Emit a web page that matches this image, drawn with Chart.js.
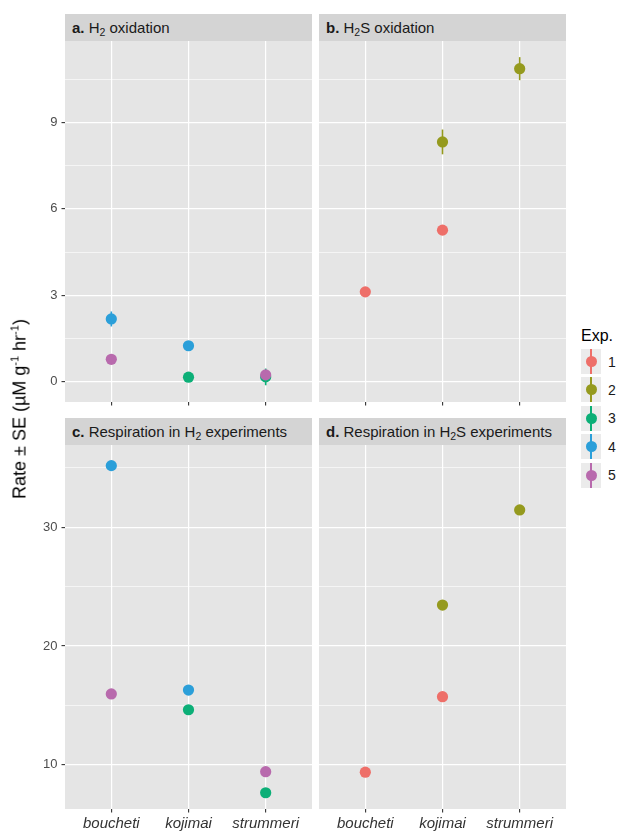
<!DOCTYPE html>
<html>
<head>
<meta charset="utf-8">
<script src="https://cdn.jsdelivr.net/npm/chart.js@4/dist/chart.umd.min.js"></script>
<style>
  html, body { margin: 0; padding: 0; background: #fff; }
  body { width: 622px; height: 833px; position: relative; overflow: hidden;
         font-family: "Liberation Sans", Arial, Helvetica, sans-serif; }
  canvas { position: absolute; }
  .strip { position: absolute; background: #D4D4D4; color: #1A1A1A; font-size: 15px;
           line-height: 27px; height: 27px; padding-left: 7px; box-sizing: border-box; white-space: nowrap; }
  .strip sub { font-size: 10.5px; line-height: 0; vertical-align: -3px; }
  .ytitle { position: absolute; left: 20px; top: 409px; transform: translate(-50%, -50%) rotate(-90deg);
            font-size: 18px; color: #000; white-space: nowrap; font-weight: normal; }
  .ytitle sup { font-size: 11px; line-height: 0; vertical-align: 7px; }
  .legend-title { position: absolute; left: 581px; top: 327px; font-size: 16px; color: #000; line-height: 18px; }
  .key { position: absolute; left: 581px; width: 20px; height: 25px; background: #EBEBEB; }
  .key .bar { position: absolute; left: 9px; top: 0; width: 2px; height: 25px; }
  .key .dot { position: absolute; left: 4.5px; top: 7px; width: 11px; height: 11px; border-radius: 50%; }
  .key-label { position: absolute; left: 608px; font-size: 14px; color: #1A1A1A; line-height: 16px; }
</style>
</head>
<body>

<div class="strip" style="left:65px; top:14px; width:247px;"><b>a.</b> H<sub>2</sub> oxidation</div>
<div class="strip" style="left:319px; top:14px; width:247px;"><b>b.</b> H<sub>2</sub>S oxidation</div>
<div class="strip" style="left:65px; top:418px; width:247px;"><b>c.</b> Respiration in H<sub>2</sub> experiments</div>
<div class="strip" style="left:319px; top:418px; width:247px;"><b>d.</b> Respiration in H<sub>2</sub>S experiments</div>

<canvas id="panelA" width="312" height="367" style="left:0; top:41px;"></canvas>
<canvas id="panelB" width="247" height="367" style="left:319px; top:41px;"></canvas>
<canvas id="panelC" width="312" height="388" style="left:0; top:445px;"></canvas>
<canvas id="panelD" width="247" height="388" style="left:319px; top:445px;"></canvas>

<div class="ytitle">Rate ± SE (µM g<sup>-1</sup> hr<sup>-1</sup>)</div>
<div class="legend-title">Exp.</div>
<div id="legend"></div>

<script>
// Categories and experiment groups
const species = ['boucheti', 'kojimai', 'strummeri'];
const experiments = ['1', '2', '3', '4', '5'];
const expColors = ['#EE6F69', '#959A1E', '#0CAF77', '#2B9FD9', '#B86AAD'];

// a. H2 oxidation: mean rate and SE per species
const h2OxExp3 = [null, 0.16, 0.17];
const h2OxExp3Se = [null, 0.05, 0.29];
const h2OxExp4 = [2.18, 1.25, null];
const h2OxExp4Se = [0.26, 0.05, null];
const h2OxExp5 = [0.78, null, 0.24];
const h2OxExp5Se = [0.05, null, 0.05];

// b. H2S oxidation
const h2sOxExp1 = [3.12, 5.26, null];
const h2sOxExp1Se = [0.05, 0.05, null];
const h2sOxExp2 = [null, 8.32, 10.86];
const h2sOxExp2Se = [null, 0.43, 0.40];

// c. Respiration in H2 experiments
const h2RespExp3 = [null, 14.63, 7.64];
const h2RespExp3Se = [null, 0.2, 0.2];
const h2RespExp4 = [35.19, 16.29, null];
const h2RespExp4Se = [0.2, 0.2, null];
const h2RespExp5 = [15.96, null, 9.41];
const h2RespExp5Se = [0.2, null, 0.2];

// d. Respiration in H2S experiments
const h2sRespExp1 = [9.37, 15.73, null];
const h2sRespExp1Se = [0.2, 0.2, null];
const h2sRespExp2 = [null, 23.45, 31.46];
const h2sRespExp2Se = [null, 0.3, 0.3];

// Y-axis breaks for each row of panels
const topMajorTicks = [0, 3, 6, 9];
const topMinorTicks = [1.5, 4.5, 7.5, 10.5];
const bottomMajorTicks = [10, 20, 30];
const bottomMinorTicks = [15, 25, 35];

const FONT = '"Liberation Sans", Arial, Helvetica, sans-serif';

// Grey panel background behind the grid
const panelBackground = {
  id: 'panelBackground',
  beforeDraw(chart) {
    const { ctx, chartArea: a } = chart;
    ctx.save();
    ctx.fillStyle = '#E5E5E5';
    ctx.fillRect(a.left, a.top, a.right - a.left, a.bottom - a.top);
    ctx.restore();
  }
};

// Vertical ±SE ranges drawn beneath the points
const errorRanges = {
  id: 'errorRanges',
  beforeDatasetsDraw(chart) {
    const { ctx } = chart;
    const yScale = chart.scales.y;
    ctx.save();
    ctx.lineWidth = 1.6;
    chart.data.datasets.forEach((ds, di) => {
      const meta = chart.getDatasetMeta(di);
      ctx.strokeStyle = ds.backgroundColor;
      meta.data.forEach((pt, i) => {
        const d = ds.data[i];
        if (!d || d.se == null) return;
        const y1 = yScale.getPixelForValue(d.y - d.se);
        const y2 = yScale.getPixelForValue(d.y + d.se);
        ctx.beginPath();
        ctx.moveTo(pt.x, y1);
        ctx.lineTo(pt.x, y2);
        ctx.stroke();
      });
    });
    ctx.restore();
  }
};

function toPoints(rates, ses) {
  const pts = [];
  rates.forEach((v, i) => {
    if (v != null) pts.push({ x: i + 1, y: v, se: ses[i] });
  });
  return pts;
}

function makePanel(id, series, cfg) {
  const datasets = series.map(s => ({
    label: experiments[s.exp - 1],
    data: toPoints(s.rate, s.se),
    backgroundColor: expColors[s.exp - 1],
    borderWidth: 0,
    pointRadius: 5.6,
    pointHoverRadius: 5.6,
    order: 10 - s.exp
  }));
  const major = cfg.major;
  const allY = cfg.major.concat(cfg.minor).sort((a, b) => a - b);

  return new Chart(document.getElementById(id), {
    type: 'scatter',
    data: { datasets },
    plugins: [panelBackground, errorRanges],
    options: {
      responsive: false,
      animation: false,
      events: [],
      layout: { padding: 0, autoPadding: false },
      plugins: { legend: { display: false }, tooltip: { enabled: false } },
      scales: {
        x: {
          type: 'linear',
          position: 'bottom',
          min: 0.4,
          max: 3.6,
          afterBuildTicks: s => { s.ticks = species.map((_, i) => ({ value: i + 1 })); },
          afterFit: s => { s.height = cfg.xHeight; s.paddingLeft = 0; s.paddingRight = 0; },
          border: { display: false },
          grid: { color: '#FFFFFF', lineWidth: 1.2, drawTicks: true, tickLength: 3.5,
                  tickColor: '#333333', tickWidth: 1.1 },
          ticks: {
            display: cfg.xLabels,
            autoSkip: false,
            maxRotation: 0,
            padding: 2,
            color: '#333333',
            font: { family: FONT, size: 15, style: 'italic' },
            callback: v => species[v - 1] || ''
          }
        },
        y: {
          type: 'linear',
          position: 'left',
          min: cfg.min,
          max: cfg.max,
          afterBuildTicks: s => { s.ticks = allY.map(v => ({ value: v })); },
          afterFit: s => { s.width = cfg.yWidth; s.paddingTop = 0; s.paddingBottom = 0; },
          border: { display: false },
          grid: {
            color: '#FFFFFF',
            lineWidth: ctx => major.includes(ctx.tick.value) ? 1.2 : 0.6,
            drawTicks: cfg.yLabels,
            tickLength: 3.5,
            tickWidth: 1.1,
            tickColor: ctx => major.includes(ctx.tick.value) ? '#333333' : 'rgba(0,0,0,0)'
          },
          ticks: {
            display: cfg.yLabels,
            autoSkip: false,
            padding: 4,
            color: '#4D4D4D',
            font: { family: FONT, size: 13 },
            callback: v => major.includes(v) ? String(v) : ''
          }
        }
      }
    }
  });
}

const topRow = { min: -0.70, max: 11.82, major: topMajorTicks, minor: topMinorTicks, xHeight: 6, xLabels: false };
const bottomRow = { min: 6.27, max: 36.93, major: bottomMajorTicks, minor: bottomMinorTicks, xHeight: 24, xLabels: true };

makePanel('panelA', [
  { exp: 3, rate: h2OxExp3, se: h2OxExp3Se },
  { exp: 4, rate: h2OxExp4, se: h2OxExp4Se },
  { exp: 5, rate: h2OxExp5, se: h2OxExp5Se }
], Object.assign({}, topRow, { yWidth: 65, yLabels: true }));

makePanel('panelB', [
  { exp: 1, rate: h2sOxExp1, se: h2sOxExp1Se },
  { exp: 2, rate: h2sOxExp2, se: h2sOxExp2Se }
], Object.assign({}, topRow, { yWidth: 0, yLabels: false }));

makePanel('panelC', [
  { exp: 3, rate: h2RespExp3, se: h2RespExp3Se },
  { exp: 4, rate: h2RespExp4, se: h2RespExp4Se },
  { exp: 5, rate: h2RespExp5, se: h2RespExp5Se }
], Object.assign({}, bottomRow, { yWidth: 65, yLabels: true }));

makePanel('panelD', [
  { exp: 1, rate: h2sRespExp1, se: h2sRespExp1Se },
  { exp: 2, rate: h2sRespExp2, se: h2sRespExp2Se }
], Object.assign({}, bottomRow, { yWidth: 0, yLabels: false }));

// Legend keys: point with a vertical range line on a light grey key
const legend = document.getElementById('legend');
experiments.forEach((name, i) => {
  const top = 349 + i * 28.4;
  const key = document.createElement('div');
  key.className = 'key';
  key.style.top = top + 'px';
  key.innerHTML = '<div class="bar" style="background:' + expColors[i] + '"></div>' +
                  '<div class="dot" style="background:' + expColors[i] + '"></div>';
  legend.appendChild(key);
  const lab = document.createElement('div');
  lab.className = 'key-label';
  lab.style.top = (top + 4.5) + 'px';
  lab.textContent = name;
  legend.appendChild(lab);
});
</script>
</body>
</html>
